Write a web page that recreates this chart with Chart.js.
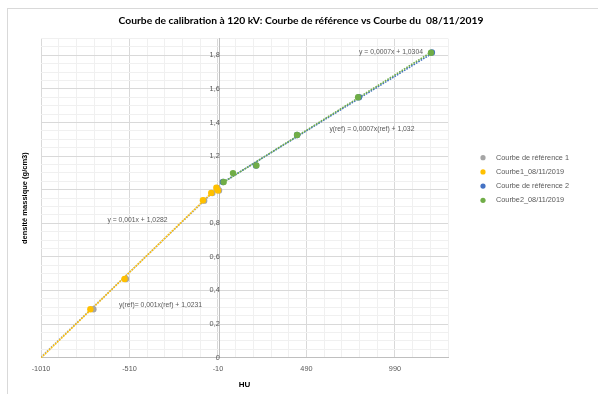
<!DOCTYPE html>
<html>
<head>
<meta charset="utf-8">
<script src="https://cdn.jsdelivr.net/npm/chart.js@4/dist/chart.umd.min.js"></script>
<style>
  html, body { margin: 0; padding: 0; background: #ffffff; }
  #wrap { width: 598px; height: 394px; }
</style>
</head>
<body>
<div id="wrap"><canvas id="chart" width="598" height="394"></canvas></div>
<script>
// Series names and colours
const seriesNames = ['Courbe de référence 1', 'Courbe1_08/11/2019', 'Courbe de référence 2', 'Courbe2_08/11/2019'];
const seriesColors = ['#A5A5A5', '#FFC000', '#4472C4', '#70AD47'];
const chartTitle = 'Courbe de calibration à 120 kV: Courbe de référence vs Courbe du  08/11/2019';

// Measured points: HU -> densité massique (g/cm3)
const ref1HU = [-714, -530, -88, -42, -13, -4];
const ref1Density = [0.288, 0.468, 0.935, 0.980, 1.010, 0.996];
const courbe1HU = [-731, -538, -95, -48, -19, -10];
const courbe1Density = [0.288, 0.468, 0.937, 0.981, 1.012, 0.996];
const ref2HU = [18, 205, 437, 787, 1199];
const ref2Density = [1.046, 1.144, 1.326, 1.551, 1.817];
const courbe2HU = [22, 75, 207, 437, 782, 1194];
const courbe2Density = [1.046, 1.099, 1.144, 1.326, 1.551, 1.816];

// Linear trendlines (same series order as above)
const trendSlopes = [0.00101, 0.00102, 0.00065, 0.00066];
const trendIntercepts = [1.0231, 1.0282, 1.032, 1.0304];
const trendStartHU = [-1010, -1010, 18, 22];
const trendEndHU = [-4, -10, 1199, 1194];
const trendLhs = ['y(ref)=', 'y =', 'y(ref) =', 'y ='];
const trendVar = ['x(ref)', 'x', 'x(ref)', 'x'];
// where each equation is written, in data units (HU, densité)
const trendLabelHU = [-335, -465, 860, 968];
const trendLabelDensity = [0.314, 0.817, 1.362, 1.818];

// Axes
const xTickLabels = ['-1010', '-510', '-10', '490', '990'];
const yTickLabels = ['0', '0,2', '0,4', '0,6', '0,8', '1', '1,2', '1,4', '1,6', '1,8'];
const xMin = -1010, xMax = 1290, xMinorStep = 100;
const yMin = 0, yMax = 1.9, yMinorStep = 0.05;

const FONT = 'Liberation Sans';
const TITLE_FONT = 'Lato';
const TEXT_GREY = '#595959';

const xMajor = xTickLabels.map(Number);
const yMajor = yTickLabels.map(s => Number(s.replace(',', '.')));

function gridValues(min, max, step) {
  const out = [];
  const n = Math.round((max - min) / step);
  for (let i = 0; i <= n; i++) out.push(Math.round((min + i * step) * 1000) / 1000);
  return out;
}
const xGrid = gridValues(xMin, xMax, xMinorStep);
const yGrid = gridValues(yMin, yMax, yMinorStep);

function isMajor(list, v) { return list.some(m => Math.abs(m - v) < 1e-6); }
function fmt(n) {
  return String(Math.round(n * 10000) / 10000).replace('.', ',');
}

const pointSets = [
  [ref1HU, ref1Density],
  [courbe1HU, courbe1Density],
  [ref2HU, ref2Density],
  [courbe2HU, courbe2Density]
];

const datasets = [];
pointSets.forEach(([xs, ys], i) => {
  datasets.push({
    label: seriesNames[i],
    data: xs.map((x, k) => ({ x: x, y: ys[k] })),
    backgroundColor: seriesColors[i],
    borderColor: seriesColors[i],
    borderWidth: 0,
    pointRadius: 3.2,
    showLine: false,
    order: 4 - i
  });
});
pointSets.forEach((_, i) => {
  const a = trendIntercepts[i], b = trendSlopes[i];
  datasets.push({
    label: 'trend ' + seriesNames[i],
    data: [trendStartHU[i], trendEndHU[i]].map(x => ({ x: x, y: a + b * x })),
    borderColor: seriesColors[i],
    borderWidth: 1.6,
    borderDash: [1.6, 1.2],
    pointRadius: 0,
    showLine: true,
    fill: false,
    order: 10 - i
  });
});

// white background, light frame and the centred title
const framePlugin = {
  id: 'frame',
  beforeDraw(chart) {
    const c = chart.ctx;
    c.save();
    c.fillStyle = '#ffffff';
    c.fillRect(0, 0, chart.width, chart.height);
    c.strokeStyle = '#d9d9d9';
    c.lineWidth = 1;
    c.strokeRect(7.5, 8.5, chart.width, chart.height);
    c.fillStyle = '#000000';
    c.font = 'bold 10.3px "' + TITLE_FONT + '"';
    c.textAlign = 'center';
    c.textBaseline = 'middle';
    c.fillText(chartTitle, 301, 20.3);
    c.restore();
  }
};

// trendline equations
const equationPlugin = {
  id: 'equations',
  afterDatasetsDraw(chart) {
    const c = chart.ctx, xs = chart.scales.x, ys = chart.scales.y;
    c.save();
    c.font = '6.8px "' + FONT + '"';
    c.fillStyle = TEXT_GREY;
    c.textAlign = 'center';
    c.textBaseline = 'middle';
    trendSlopes.forEach((b, i) => {
      const txt = trendLhs[i] + ' ' + fmt(b) + trendVar[i] + ' + ' + fmt(trendIntercepts[i]);
      c.fillText(txt, xs.getPixelForValue(trendLabelHU[i]), ys.getPixelForValue(trendLabelDensity[i]));
    });
    c.restore();
  }
};

// legend on the right
const legendPlugin = {
  id: 'sideLegend',
  afterDraw(chart) {
    const c = chart.ctx;
    const markerX = 483, textX = 496, top = 157.7, step = 14.2;
    c.save();
    c.font = '7.3px "' + FONT + '"';
    c.textBaseline = 'middle';
    c.textAlign = 'left';
    seriesNames.forEach((name, i) => {
      const y = top + i * step;
      c.fillStyle = seriesColors[i];
      c.beginPath();
      c.arc(markerX, y, 2.6, 0, Math.PI * 2);
      c.fill();
      c.fillStyle = TEXT_GREY;
      c.fillText(name, textX, y);
    });
    c.restore();
  }
};

new Chart(document.getElementById('chart'), {
  type: 'scatter',
  data: { datasets: datasets },
  plugins: [framePlugin, equationPlugin, legendPlugin],
  options: {
    responsive: false,
    devicePixelRatio: 1,
    animation: false,
    events: [],
    layout: { padding: { left: 20, right: 150, top: 38.6, bottom: 4 } },
    plugins: {
      legend: { display: false },
      tooltip: { enabled: false },
      title: { display: false }
    },
    scales: {
      x: {
        type: 'linear',
        min: xMin,
        max: xMax,
        afterBuildTicks: s => { s.ticks = xGrid.map(v => ({ value: v })); },
        ticks: {
          autoSkip: false,
          maxRotation: 0,
          color: TEXT_GREY,
          font: { family: FONT, size: 7.3 },
          padding: 3,
          callback: v => {
            const k = xMajor.findIndex(m => Math.abs(m - v) < 1e-6);
            return k >= 0 ? xTickLabels[k] : '';
          }
        },
        grid: {
          color: ctx => (ctx.tick && isMajor(xMajor, ctx.tick.value)) ? '#d9d9d9' : '#f0f0f0',
          lineWidth: 1,
          tickLength: 4,
          tickColor: 'rgba(0,0,0,0)'
        },
        border: { color: '#bfbfbf', width: 1 },
        title: {
          display: true,
          text: 'HU',
          color: '#000000',
          font: { family: FONT, size: 8, weight: 'bold' },
          padding: { top: 4, bottom: 0 }
        }
      },
      y: {
        type: 'linear',
        min: yMin,
        max: yMax,
        position: { x: 0 },
        afterBuildTicks: s => { s.ticks = yGrid.map(v => ({ value: v })); },
        ticks: {
          autoSkip: false,
          color: TEXT_GREY,
          font: { family: FONT, size: 7.3 },
          callback: v => {
            const k = yMajor.findIndex(m => Math.abs(m - v) < 1e-6);
            return k >= 0 ? yTickLabels[k] : '';
          }
        },
        grid: {
          color: ctx => (ctx.tick && isMajor(yMajor, ctx.tick.value)) ? '#d9d9d9' : '#f0f0f0',
          lineWidth: 1,
          tickLength: 8,
          tickColor: 'rgba(0,0,0,0)'
        },
        border: { color: '#bfbfbf', width: 1 }
      },
      yTitle: {
        type: 'linear',
        position: 'left',
        display: true,
        ticks: { display: false },
        grid: { display: false, drawTicks: false },
        border: { display: false },
        title: {
          display: true,
          text: 'densité massique (g/cm3)',
          color: '#000000',
          font: { family: FONT, size: 7.5, weight: 'bold' },
          padding: { top: 0, bottom: 12 }
        }
      }
    }
  }
});
</script>
</body>
</html>
